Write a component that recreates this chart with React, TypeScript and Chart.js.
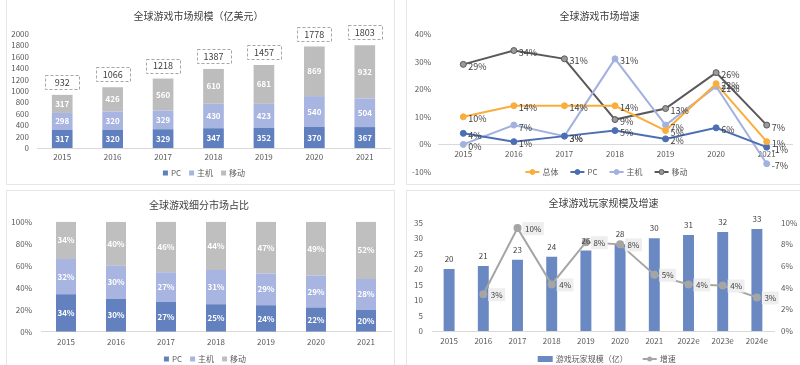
import React, { useEffect, useRef } from 'react';
import { Chart, registerables } from 'chart.js';

Chart.register(...registerables);

const FONT = '"Noto Sans CJK SC", "Noto Sans", sans-serif';

// ---- Panel 1: market size (亿美元)
const years = ['2015', '2016', '2017', '2018', '2019', '2020', '2021'];
const sizePC = [317, 320, 329, 347, 352, 370, 367];
const sizeConsole = [298, 320, 329, 430, 423, 540, 504];
const sizeMobile = [317, 426, 560, 610, 681, 869, 932];
const sizeTotal = [932, 1066, 1218, 1387, 1457, 1778, 1803];

// ---- Panel 2: growth rates (%)
const growthTotal = [10, 14, 14, 14, 5, 22, 1];
const growthPC = [4, 1, 3, 5, 2, 6, -1];
const growthConsole = [0, 7, 3, 31, 7, 21, -7];
const growthMobile = [29, 34, 31, 9, 13, 26, 7];

// ---- Panel 3: segment share (%)
const sharePC = [34, 30, 27, 25, 24, 22, 20];
const shareConsole = [32, 30, 27, 31, 29, 29, 28];
const shareMobile = [34, 40, 46, 44, 47, 49, 52];

// ---- Panel 4: players (亿) and growth (%)
const playerYears = ['2015', '2016', '2017', '2018', '2019', '2020', '2021', '2022e', '2023e', '2024e'];
const players = [20, 21, 23, 24, 26, 28, 30, 31, 32, 33];
const playerGrowth = [null, 3.4, 9.5, 4.3, 8.2, 8.0, 5.2, 4.3, 4.2, 3.1];

const C_PC = '#5f7fbf';
const C_CONSOLE = '#a9b5e1';
const C_MOBILE = '#bdbdbd';
const TICK = '#595959';
const TXT = '#404040';

const fixW = (w: number) => (s: any) => { s.width = w; };
const fixH = (h: number) => (s: any) => { s.height = h; };

type Entry = { text: string; kind: 'square' | 'line' | 'bar'; color: string; marker?: string; markerBorder?: string };

function drawLegend(ctx: CanvasRenderingContext2D, entries: Entry[], cx: number, cy: number, gap: number) {
  ctx.save();
  ctx.font = `8px ${FONT}`;
  const sw = (e: Entry) => (e.kind === 'square' ? 5 : e.kind === 'line' ? 14 : 15);
  const widths = entries.map((e) => sw(e) + 3 + ctx.measureText(e.text).width);
  const total = widths.reduce((a, b) => a + b, 0) + gap * (entries.length - 1);
  let x = cx - total / 2;
  entries.forEach((e, i) => {
    const w = sw(e);
    if (e.kind === 'square') {
      ctx.fillStyle = e.color;
      ctx.fillRect(x, cy - 2.5, 5, 5);
    } else if (e.kind === 'bar') {
      ctx.fillStyle = e.color;
      ctx.fillRect(x, cy - 3, 15, 6);
    } else {
      ctx.strokeStyle = e.color;
      ctx.lineWidth = 2;
      ctx.beginPath();
      ctx.moveTo(x, cy);
      ctx.lineTo(x + w, cy);
      ctx.stroke();
      ctx.beginPath();
      ctx.arc(x + w / 2, cy, 2.5, 0, Math.PI * 2);
      ctx.fillStyle = e.marker || e.color;
      ctx.fill();
      if (e.markerBorder) {
        ctx.lineWidth = 1;
        ctx.strokeStyle = e.markerBorder;
        ctx.stroke();
      }
    }
    ctx.fillStyle = TICK;
    ctx.textAlign = 'left';
    ctx.textBaseline = 'middle';
    ctx.fillText(e.text, x + w + 3, cy);
    x += widths[i] + gap;
  });
  ctx.restore();
}

const legendPlugin = {
  id: 'customLegend',
  afterDraw(chart: any, _args: any, opts: any) {
    if (!opts || !opts.items) return;
    drawLegend(chart.ctx, opts.items(chart), opts.x, opts.y, opts.gap ?? 9);
  },
};

const insideLabels = (fmt: (v: number) => string) => ({
  id: 'insideLabels',
  afterDatasetsDraw(chart: any) {
    const ctx = chart.ctx;
    ctx.save();
    ctx.font = `bold 8px ${FONT}`;
    ctx.fillStyle = '#ffffff';
    ctx.textAlign = 'center';
    ctx.textBaseline = 'middle';
    chart.data.datasets.forEach((ds: any, i: number) => {
      chart.getDatasetMeta(i).data.forEach((el: any, j: number) => {
        ctx.fillText(fmt(ds.data[j]), el.x, (el.y + el.base) / 2);
      });
    });
    ctx.restore();
  },
});

const totalBoxes = {
  id: 'totalBoxes',
  afterDatasetsDraw(chart: any) {
    const ctx = chart.ctx;
    const meta = chart.getDatasetMeta(chart.data.datasets.length - 1);
    ctx.save();
    meta.data.forEach((el: any, j: number) => {
      const cy = el.y - 13;
      const w = 34;
      const h = 14;
      ctx.setLineDash([3, 2]);
      ctx.lineWidth = 1;
      ctx.strokeStyle = '#a6a6a6';
      ctx.strokeRect(Math.round(el.x - w / 2) + 0.5, Math.round(cy - h / 2) + 0.5, w, h);
      ctx.setLineDash([]);
      ctx.font = `9px ${FONT}`;
      ctx.fillStyle = TXT;
      ctx.textAlign = 'center';
      ctx.textBaseline = 'middle';
      ctx.fillText(String(sizeTotal[j]), el.x, cy + 0.5);
    });
    ctx.restore();
  },
};

const pointLabels = {
  id: 'pointLabels',
  afterDatasetsDraw(chart: any) {
    const ctx = chart.ctx;
    ctx.save();
    ctx.font = `9px ${FONT}`;
    ctx.fillStyle = TXT;
    ctx.textAlign = 'left';
    ctx.textBaseline = 'middle';
    chart.data.datasets.forEach((ds: any, i: number) => {
      chart.getDatasetMeta(i).data.forEach((el: any, j: number) => {
        ctx.fillText(`${ds.data[j]}%`, el.x + 5, el.y + 2);
      });
    });
    ctx.restore();
  },
};

const playerLabels = {
  id: 'playerLabels',
  afterDatasetsDraw(chart: any) {
    const ctx = chart.ctx;
    ctx.save();
    ctx.font = `8px ${FONT}`;
    ctx.textBaseline = 'middle';
    const barMeta = chart.getDatasetMeta(0);
    ctx.fillStyle = TXT;
    ctx.textAlign = 'center';
    barMeta.data.forEach((el: any, j: number) => {
      ctx.fillText(String(players[j]), el.x, el.y - 10);
    });
    const lineMeta = chart.getDatasetMeta(1);
    ctx.textAlign = 'left';
    lineMeta.data.forEach((el: any, j: number) => {
      const v = playerGrowth[j];
      if (v == null) return;
      const t = `${Math.round(v)}%`;
      const tw = ctx.measureText(t).width;
      ctx.fillStyle = '#eeeeee';
      ctx.fillRect(el.x + 5, el.y - 6, tw + 5, 13);
      ctx.fillStyle = TXT;
      ctx.fillText(t, el.x + 7.5, el.y + 0.5);
    });
    ctx.restore();
  },
};

const tickFont = { family: FONT, size: 8 };
const titleOpts = (text: string, top: number, bottom: number) => ({
  display: true,
  text,
  color: TXT,
  font: { family: FONT, size: 10, weight: 'normal' as const },
  padding: { top, bottom },
});

const barLegend = (chart: any): Entry[] =>
  chart.data.datasets.map((d: any) => ({ text: d.label, kind: 'square', color: d.backgroundColor }));
const lineLegend = (chart: any): Entry[] =>
  chart.data.datasets.map((d: any) => ({
    text: d.label,
    kind: 'line',
    color: d.borderColor,
    marker: d.pointBackgroundColor,
    markerBorder: d.pointBorderColor,
  }));

function config1(): any {
  return {
    type: 'bar',
    data: {
      labels: years,
      datasets: [
        { label: 'PC', data: sizePC, backgroundColor: C_PC },
        { label: '主机', data: sizeConsole, backgroundColor: C_CONSOLE },
        { label: '移动', data: sizeMobile, backgroundColor: C_MOBILE },
      ],
    },
    options: {
      animation: false,
      responsive: false,
      events: [],
      layout: { padding: { left: 0, right: 4, top: 0, bottom: 0 } },
      datasets: { bar: { barPercentage: 0.41, categoryPercentage: 1 } },
      plugins: {
        legend: { display: false },
        tooltip: { enabled: false },
        title: titleOpts('全球游戏市场规模（亿美元）', 10, 12),
        customLegend: { items: barLegend, x: 197, y: 173, gap: 8 },
      },
      scales: {
        x: {
          stacked: true,
          grid: { display: false, drawTicks: false },
          border: { display: true, color: '#d9d9d9' },
          ticks: { font: tickFont, color: TICK, padding: 4, autoSkip: false, maxRotation: 0 },
          afterFit: fixH(36),
        },
        y: {
          stacked: true,
          min: 0,
          max: 2000,
          grid: { display: false, drawTicks: false },
          border: { display: false },
          ticks: {
            stepSize: 200,
            autoSkip: false,
            font: tickFont,
            color: TICK,
            padding: 8,
            callback: (v: number) => String(v),
          },
          afterFit: fixW(30),
        },
      },
    },
    plugins: [insideLabels((v) => String(v)), totalBoxes, legendPlugin],
  };
}

function config2(): any {
  const mk = (label: string, data: number[], color: string, marker: string, mborder: string) => ({
    label,
    data,
    borderColor: color,
    backgroundColor: color,
    borderWidth: 2,
    pointRadius: 3,
    pointBackgroundColor: marker,
    pointBorderColor: mborder,
    pointBorderWidth: 1,
    tension: 0,
  });
  return {
    type: 'line',
    data: {
      labels: years,
      datasets: [
        mk('总体', growthTotal, '#f9ae3c', '#f9ae3c', '#f9ae3c'),
        mk('PC', growthPC, '#4c6eb3', '#4c6eb3', '#4c6eb3'),
        mk('主机', growthConsole, '#a3b1df', '#a3b1df', '#a3b1df'),
        mk('移动', growthMobile, '#595959', '#9a9a9a', '#595959'),
      ],
    },
    options: {
      animation: false,
      responsive: false,
      events: [],
      layout: { padding: { left: 0, right: 9, top: 0, bottom: 12 } },
      plugins: {
        legend: { display: false },
        tooltip: { enabled: false },
        title: titleOpts('全球游戏市场增速', 10, 12),
        customLegend: { items: lineLegend, x: 199.5, y: 172, gap: 12 },
      },
      scales: {
        x: {
          type: 'category',
          offset: true,
          position: { y: 0 },
          grid: { display: false, drawTicks: false },
          border: { display: true, color: '#d9d9d9' },
          ticks: { font: tickFont, color: TICK, padding: 5, autoSkip: false, maxRotation: 0 },
        },
        y: {
          min: -10,
          max: 40,
          grid: { display: false, drawTicks: false },
          border: { display: false },
          ticks: {
            stepSize: 10,
            autoSkip: false,
            font: tickFont,
            color: TICK,
            padding: 7,
            callback: (v: number) => `${v}%`,
          },
          afterFit: fixW(31),
        },
      },
    },
    plugins: [pointLabels, legendPlugin],
  };
}

function config3(): any {
  return {
    type: 'bar',
    data: {
      labels: years,
      datasets: [
        { label: 'PC', data: sharePC, backgroundColor: '#6281be' },
        { label: '主机', data: shareConsole, backgroundColor: C_CONSOLE },
        { label: '移动', data: shareMobile, backgroundColor: '#bfbfbf' },
      ],
    },
    options: {
      animation: false,
      responsive: false,
      events: [],
      layout: { padding: { left: 0, right: 3, top: 0, bottom: 0 } },
      datasets: { bar: { barPercentage: 0.4, categoryPercentage: 1 } },
      plugins: {
        legend: { display: false },
        tooltip: { enabled: false },
        title: titleOpts('全球游戏细分市场占比', 8, 10.7),
        customLegend: { items: barLegend, x: 198, y: 168, gap: 8 },
      },
      scales: {
        x: {
          stacked: true,
          grid: { display: false, drawTicks: false },
          border: { display: true, color: '#d9d9d9' },
          ticks: { font: tickFont, color: TICK, padding: 5, autoSkip: false, maxRotation: 0 },
          afterFit: fixH(34.3),
        },
        y: {
          stacked: true,
          min: 0,
          max: 100,
          grid: { display: false, drawTicks: false },
          border: { display: false },
          ticks: {
            stepSize: 20,
            autoSkip: false,
            font: tickFont,
            color: TICK,
            padding: 9,
            callback: (v: number) => `${v}%`,
          },
          afterFit: fixW(34),
        },
      },
    },
    plugins: [insideLabels((v) => `${v}%`), legendPlugin],
  };
}

function config4(): any {
  return {
    type: 'bar',
    data: {
      labels: playerYears,
      datasets: [
        {
          type: 'bar',
          label: '游戏玩家规模（亿）',
          data: players,
          backgroundColor: '#6a88c2',
          yAxisID: 'y',
          order: 1,
          barPercentage: 0.32,
          categoryPercentage: 1,
        },
        {
          type: 'line',
          label: '增速',
          data: playerGrowth,
          borderColor: '#a5a5a5',
          backgroundColor: '#a5a5a5',
          borderWidth: 2,
          pointRadius: 3,
          pointBackgroundColor: '#a5a5a5',
          pointBorderColor: '#a5a5a5',
          yAxisID: 'y1',
          order: 0,
        },
      ],
    },
    options: {
      animation: false,
      responsive: false,
      events: [],
      layout: { padding: { left: 0, right: 1, top: 0, bottom: 0 } },
      plugins: {
        legend: { display: false },
        tooltip: { enabled: false },
        title: titleOpts('全球游戏玩家规模及增速', 6, 13.7),
        customLegend: {
          items: (chart: any): Entry[] => [
            { text: chart.data.datasets[0].label, kind: 'bar', color: chart.data.datasets[0].backgroundColor },
            {
              text: chart.data.datasets[1].label,
              kind: 'line',
              color: chart.data.datasets[1].borderColor,
              marker: chart.data.datasets[1].pointBackgroundColor,
            },
          ],
          x: 199.7,
          y: 168,
          gap: 15,
        },
      },
      scales: {
        x: {
          grid: { display: false, drawTicks: false },
          border: { display: true, color: '#d9d9d9' },
          ticks: { font: tickFont, color: TICK, padding: 5, autoSkip: false, maxRotation: 0 },
          afterFit: fixH(35),
        },
        y: {
          position: 'left',
          min: 0,
          max: 35,
          grid: { display: false, drawTicks: false },
          border: { display: false },
          ticks: { stepSize: 5, autoSkip: false, font: tickFont, color: TICK, padding: 9 },
          afterFit: fixW(25),
        },
        y1: {
          position: 'right',
          min: 0,
          max: 10,
          grid: { display: false, drawTicks: false },
          border: { display: false },
          ticks: {
            stepSize: 2,
            autoSkip: false,
            font: tickFont,
            color: TICK,
            padding: 7,
            callback: (v: number) => `${v}%`,
          },
          afterFit: fixW(26),
        },
      },
    },
    plugins: [playerLabels, legendPlugin],
  };
}

function Panel(props: { left: number; top: number; width: number; height: number; make: () => any }) {
  const { left, top, width, height, make } = props;
  const ref = useRef<HTMLCanvasElement>(null);
  useEffect(() => {
    const chart = new Chart(ref.current as HTMLCanvasElement, make());
    return () => chart.destroy();
  }, []);
  const cw = width - 2;
  const ch = height - 2;
  return (
    <div
      style={{
        position: 'absolute',
        left,
        top,
        width,
        height,
        border: '1px solid #e6e6e6',
        boxSizing: 'border-box',
        background: '#ffffff',
      }}
    >
      <canvas
        ref={ref}
        width={cw}
        height={ch}
        style={{ position: 'absolute', left: 0, top: 0, width: cw, height: ch }}
      />
    </div>
  );
}

export default function App() {
  return (
    <div
      style={{
        position: 'fixed',
        left: 0,
        top: 0,
        width: 800,
        height: 365,
        background: '#ffffff',
        overflow: 'hidden',
      }}
    >
      <Panel left={6} top={-1} width={389} height={186} make={config1} />
      <Panel left={406} top={-1} width={396} height={186} make={config2} />
      <Panel left={6} top={190} width={389} height={177} make={config3} />
      <Panel left={406} top={190} width={396} height={177} make={config4} />
    </div>
  );
}
